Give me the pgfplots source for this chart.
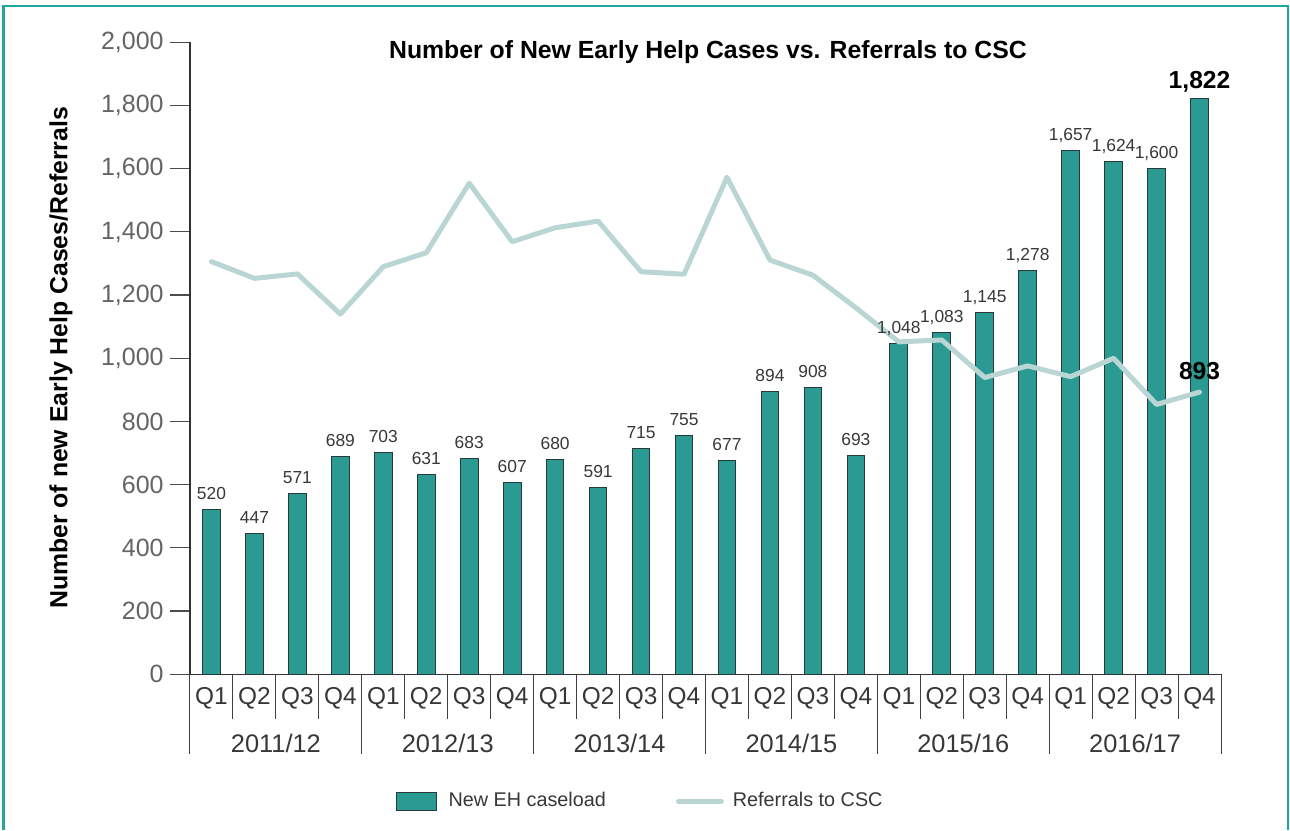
\documentclass[border=0pt]{standalone}
\usepackage{pgfplots}
\pgfplotsset{compat=1.18}
\usepackage{fontspec}
\setmainfont{Liberation Sans}
\definecolor{barfill}{RGB}{42,154,146}
\definecolor{bardraw}{RGB}{40,58,56}
\definecolor{linec}{RGB}{185,214,212}
\definecolor{framec}{RGB}{32,168,160}
\definecolor{tickgray}{RGB}{100,100,100}
\definecolor{labgray}{RGB}{55,55,55}
\pgfplotsset{
  barleg/.style={legend image code/.code={\draw[##1] (0pt,-4.5pt) rectangle (20pt,4.5pt); \path (24pt,0pt);}},
  lineleg/.style={legend image code/.code={\draw[##1] (0pt,0pt) -- (21.5pt,0pt); \path (24pt,0pt);}},
}
\begin{document}
\begin{tikzpicture}
\begin{axis}[
  at={(95pt,77.85pt)}, anchor=south west,
  scale only axis, width=515.5pt, height=316pt,
  xmin=-0.5, xmax=23.5, ymin=0, ymax=2000,
  clip=false,
  axis x line=bottom, axis y line=left,
  axis line style={-, draw=black!80, line width=0.6pt},
  ybar, bar width=8.85pt, bar shift=0pt,
  ytick={0,200,...,2000},
  tick align=outside, major tick length=10pt,
  ytick style={draw=black!70, line width=0.6pt},
  xtick style={draw=none},
  xtick={0,...,23},
  xticklabels={Q1,Q2,Q3,Q4,Q1,Q2,Q3,Q4,Q1,Q2,Q3,Q4,Q1,Q2,Q3,Q4,Q1,Q2,Q3,Q4,Q1,Q2,Q3,Q4},
  xticklabel style={font=\fontsize{12.2}{14}\selectfont, text=labgray, anchor=base, yshift=-4.85pt},
  yticklabel style={font=\fontsize{12.5}{14}\selectfont, text=tickgray, inner sep=0pt, xshift=-3pt},
  /pgf/number format/.cd, 1000 sep={,}, assume math mode=true, /pgfplots/.cd,
  ylabel={Number of new Early Help Cases/Referrals},
  ylabel style={at={(rel axis cs:-0.1251,0.5005)}, anchor=center, font=\bfseries\fontsize{12.4}{14}\selectfont},
  legend style={at={(0.4375,-0.2005)}, anchor=center, draw=none, fill=none,
    font=\fontsize{9.9}{13}\selectfont, text=labgray,
    /tikz/every even column/.append style={column sep=33pt}},
  legend columns=2,
]
\addplot[fill=barfill, draw=bardraw, line width=0.5pt, barleg,
  nodes near coords,
  every node near coord/.append style={font=\fontsize{8.7}{10}\selectfont, text=labgray, anchor=base, inner sep=0pt, yshift=5pt}]
  coordinates {(0,520) (1,447) (2,571) (3,689) (4,703) (5,631) (6,683) (7,607)
  (8,680) (9,591) (10,715) (11,755) (12,677) (13,894) (14,908) (15,693)
  (16,1048) (17,1083) (18,1145) (19,1278) (20,1657) (21,1624) (22,1600)};
\addlegendentry{New EH caseload}
\addplot[fill=barfill, draw=bardraw, line width=0.5pt, forget plot,
  nodes near coords,
  every node near coord/.append style={font=\bfseries\fontsize{12.3}{14}\selectfont, text=black, anchor=base, inner sep=0pt, yshift=5pt}]
  coordinates {(23,1822)};
\addplot[sharp plot, draw=linec, line width=2.5pt, line join=round, line cap=round, mark=none, lineleg]
  coordinates {(0,1306) (1,1253) (2,1267) (3,1140) (4,1290) (5,1334) (6,1554) (7,1369)
  (8,1413) (9,1434) (10,1274) (11,1266) (12,1573) (13,1311) (14,1263) (15,1160)
  (16,1052) (17,1058) (18,939) (19,976) (20,942) (21,1000) (22,854) (23,893)};
\addlegendentry{Referrals to CSC}
\node[font=\bfseries\fontsize{12.3}{14}\selectfont, text=black, anchor=base, yshift=6.3pt] at (axis cs:23,893) {893};
\node[font=\bfseries\fontsize{12.4}{14}\selectfont, text=black, anchor=base] at (rel axis cs:0.5024,0.9736) {Number of New Early Help Cases vs. Referrals to CSC};
\pgfplotsinvokeforeach{1,2,3,5,6,7,9,10,11,13,14,15,17,18,19,21,22,23}{
  \draw[black!75, line width=0.5pt] (axis cs:#1-0.5,0) -- ++(0pt,-22.35pt);}
\pgfplotsinvokeforeach{0,4,8,12,16,20,24}{
  \draw[black!75, line width=0.5pt] (axis cs:#1-0.5,0) -- ++(0pt,-39.85pt);}
\node[font=\fontsize{12.7}{14}\selectfont, text=labgray, anchor=base, yshift=-39.35pt] at (axis cs:1.5,0) {2011/12};
\node[font=\fontsize{12.7}{14}\selectfont, text=labgray, anchor=base, yshift=-39.35pt] at (axis cs:5.5,0) {2012/13};
\node[font=\fontsize{12.7}{14}\selectfont, text=labgray, anchor=base, yshift=-39.35pt] at (axis cs:9.5,0) {2013/14};
\node[font=\fontsize{12.7}{14}\selectfont, text=labgray, anchor=base, yshift=-39.35pt] at (axis cs:13.5,0) {2014/15};
\node[font=\fontsize{12.7}{14}\selectfont, text=labgray, anchor=base, yshift=-39.35pt] at (axis cs:17.5,0) {2015/16};
\node[font=\fontsize{12.7}{14}\selectfont, text=labgray, anchor=base, yshift=-39.35pt] at (axis cs:21.5,0) {2016/17};
\end{axis}
\draw[framec, line width=1.2pt] (1.75pt,0pt) -- (1.75pt,412pt) -- (644pt,412pt) -- (644pt,0pt);
\pgfresetboundingbox
\path[use as bounding box] (0pt,0pt) rectangle (645pt,415pt);
\end{tikzpicture}
\end{document}
